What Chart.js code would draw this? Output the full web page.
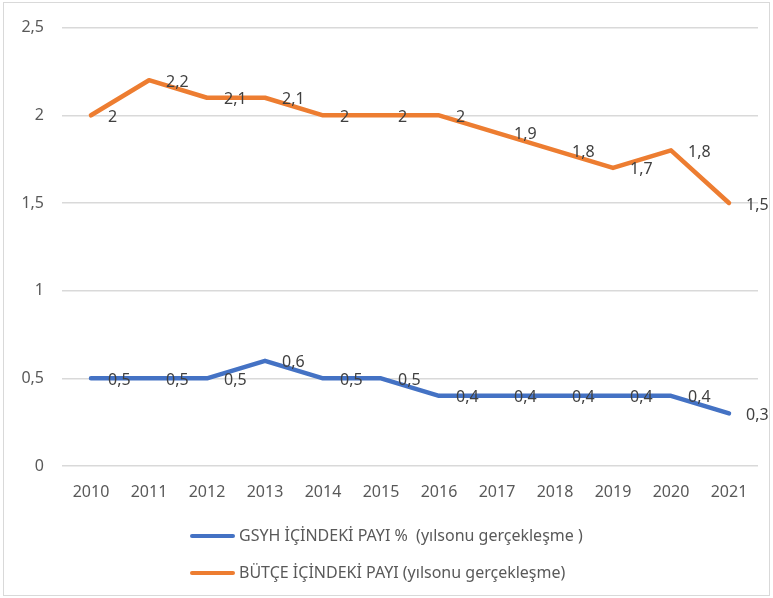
<!DOCTYPE html>
<html>
<head>
<meta charset="utf-8">
<script src="https://cdn.jsdelivr.net/npm/chart.js@4/dist/chart.umd.min.js"></script>
<style>
  body { margin: 0; background: #fff; }
  #wrap { position: absolute; left: 3px; top: 2px; width: 767px; height: 594px; border: 1px solid #d9d9d9; box-sizing: border-box; }
  canvas { position: absolute; left: 0; top: 0; }
</style>
</head>
<body>
<div id="wrap"></div>
<canvas id="c" width="773" height="598"></canvas>
<script>
const years = ['2010','2011','2012','2013','2014','2015','2016','2017','2018','2019','2020','2021'];
const gsyhPayi = [0.5, 0.5, 0.5, 0.6, 0.5, 0.5, 0.4, 0.4, 0.4, 0.4, 0.4, 0.3];
const butcePayi = [2, 2.2, 2.1, 2.1, 2, 2, 2, 1.9, 1.8, 1.7, 1.8, 1.5];
const seriesNames = ['GSYH İÇİNDEKİ PAYI %  (yılsonu gerçekleşme )', 'BÜTÇE İÇİNDEKİ PAYI (yılsonu gerçekleşme)'];

const FONT = 'Noto Sans';
const TXT = '#595959';
const fmt = v => String(v).replace('.', ',');

// data labels to the right of each point
const valueLabels = {
  id: 'valueLabels',
  afterDatasetsDraw(chart) {
    const ctx = chart.ctx;
    ctx.save();
    ctx.font = '16px "' + FONT + '"';
    ctx.fillStyle = '#404040';
    ctx.textAlign = 'left';
    ctx.textBaseline = 'middle';
    chart.data.datasets.forEach((ds, i) => {
      chart.getDatasetMeta(i).data.forEach((pt, j) => {
        ctx.fillText(fmt(ds.data[j]), pt.x + 17, pt.y + 2);
      });
    });
    ctx.restore();
  }
};

// stacked legend below the plot
const stackedLegend = {
  id: 'stackedLegend',
  afterDraw(chart) {
    const ctx = chart.ctx;
    ctx.save();
    ctx.font = '16px "' + FONT + '"';
    ctx.textBaseline = 'middle';
    ctx.lineCap = 'round';
    chart.data.datasets.forEach((ds, i) => {
      const y = 536 + i * 37;
      ctx.strokeStyle = ds.borderColor;
      ctx.lineWidth = 4;
      ctx.beginPath();
      ctx.moveTo(192, y);
      ctx.lineTo(233, y);
      ctx.stroke();
      ctx.fillStyle = TXT;
      ctx.fillText(ds.label, 239, y);
    });
    ctx.restore();
  }
};

new Chart(document.getElementById('c'), {
  type: 'line',
  data: {
    labels: years,
    datasets: [
      { label: seriesNames[0], data: gsyhPayi, borderColor: '#4472C4', borderWidth: 4.5, pointRadius: 0, tension: 0, borderJoinStyle: 'round', borderCapStyle: 'round' },
      { label: seriesNames[1], data: butcePayi, borderColor: '#ED7D31', borderWidth: 4.5, pointRadius: 0, tension: 0, borderJoinStyle: 'round', borderCapStyle: 'round' }
    ]
  },
  options: {
    responsive: false,
    animation: false,
    layout: { padding: { top: 27, right: 15, bottom: 0, left: 0 } },
    plugins: { legend: { display: false }, tooltip: { enabled: false } },
    scales: {
      x: {
        offset: true,
        grid: { display: false },
        border: { display: false },
        ticks: { color: TXT, font: { family: FONT, size: 16 }, padding: 9, maxRotation: 0 },
        afterFit(s) { s.height = 132; }
      },
      y: {
        min: 0, max: 2.5,
        grid: { color: '#d9d9d9', lineWidth: 1.5, drawTicks: false },
        border: { display: false },
        ticks: { stepSize: 0.5, color: TXT, font: { family: FONT, size: 16 }, padding: 18, callback: fmt },
        afterFit(s) { s.width = 62; }
      }
    }
  },
  plugins: [valueLabels, stackedLegend]
});
</script>
</body>
</html>
